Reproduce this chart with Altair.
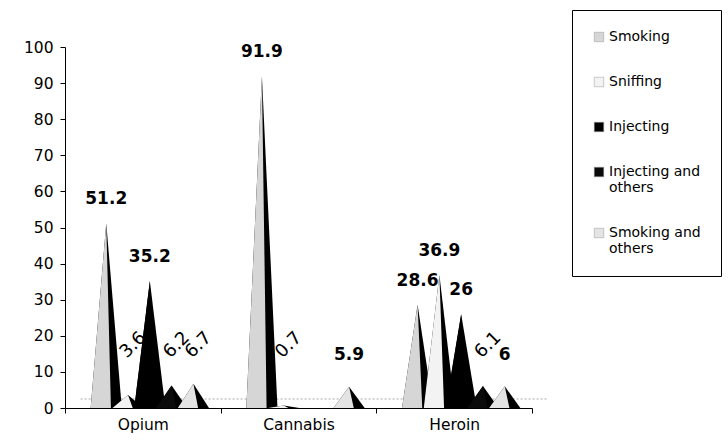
import json
import altair as alt
import pandas as pd

# ---------------- data ----------------
categories = ["Opium", "Cannabis", "Heroin"]
series = ["Smoking", "Sniffing", "Injecting", "Injecting and others", "Smoking and others"]
opium = [51.2, 3.6, 35.2, 6.2, 6.7]
cannabis = [91.9, 0.7, None, None, 5.9]
heroin = [28.6, 36.9, 26.0, 6.1, 6.0]
y_ticks = [0, 10, 20, 30, 40, 50, 60, 70, 80, 90, 100]

# ---------------- style ----------------
face_colors = ["#d6d6d6", "#f3f3f3", "#000000", "#0b0b0b", "#e4e4e4"]
rotated = {("Opium", "Sniffing"), ("Opium", "Injecting and others"),
           ("Opium", "Smoking and others"), ("Cannabis", "Sniffing"),
           ("Heroin", "Injecting and others")}
STEP, SHIFT, HALF, SPLIT = 0.14, 0.045, 0.1, 0.03
FONT = "DejaVu Sans"

values_by_cat = [opium, cannabis, heroin]
full_rows, face_rows, label_rows = [], [], []
for ci, (cat, vals) in enumerate(zip(categories, values_by_cat)):
    for si, (s, v) in enumerate(zip(series, vals)):
        if v is None:
            continue
        xc = ci + 0.5 + (si - 2) * STEP + SHIFT
        bid = f"{ci}-{si}"
        for xx, yy in [(xc - HALF, 0), (xc, v), (xc + HALF, 0)]:
            full_rows.append(dict(id=bid, series=s, si=si, x=xx, y=yy))
        for xx, yy in [(xc - HALF, 0), (xc, v), (xc + SPLIT, 0)]:
            face_rows.append(dict(id=bid, series=s, si=si, x=xx, y=yy))
        label_rows.append(dict(category=cat, series=s, x=xc, v=v,
                               text=f"{v:g}", rot=(cat, s) in rotated))

df_full = pd.DataFrame(full_rows)
df_face = pd.DataFrame(face_rows)
df_lab = pd.DataFrame(label_rows)

cat_js = json.dumps(categories).replace('"', "'")
xscale = alt.Scale(domain=[0, 3], nice=False, zero=False)
yscale = alt.Scale(domain=[0, 100], nice=False)
xaxis = alt.Axis(
    values=[0, 0.5, 1, 1.5, 2, 2.5, 3], title=None, grid=False,
    labelExpr=f"datum.value % 1 == 0 ? '' : {cat_js}[floor(datum.value)]",
    tickOpacity={"condition": {"test": "datum.value % 1 != 0", "value": 0}, "value": 1},
    tickSize=5, labelPadding=4, labelFontSize=15.5, labelFont=FONT,
    labelColor="black", domainColor="black", tickColor="black",
    labelFlush=False, labelOverlap=False,
)
yaxis = alt.Axis(
    values=y_ticks, title=None, grid=False, tickSize=5, labelPadding=7,
    labelFontSize=15.5, labelFont=FONT, labelColor="black",
    domainColor="black", tickColor="black", labelOverlap=False,
)
X = alt.X("x:Q", scale=xscale, axis=xaxis)
Y = alt.Y("y:Q", scale=yscale, axis=yaxis, stack=None)

legend = alt.Legend(
    title=None, orient="none", legendX=507, legendY=-37,
    symbolType="square", symbolSize=90, symbolStrokeColor="#999999",
    symbolStrokeWidth=0.5, labelFontSize=14, labelFont=FONT,
    labelColor="black", strokeColor="black", padding=20, rowPadding=31,
    labelOffset=3,
    labelExpr="datum.value == 'Injecting and others' ? ['Injecting and', 'others'] : "
              "datum.value == 'Smoking and others' ? ['Smoking and', 'others'] : datum.value",
)
COLOR = alt.Color("series:N", scale=alt.Scale(domain=series, range=face_colors), legend=legend)

floor = alt.Chart(pd.DataFrame({"a": [0]})).mark_rule(
    color="#aaaaaa", strokeDash=[2, 2], strokeWidth=1
).encode(
    x=alt.X(datum=0.1, scale=xscale, axis=xaxis),
    x2=alt.X2(datum=3.1),
    y=alt.Y(datum=2.5, scale=yscale, axis=yaxis),
)

layers = [floor]
for si, s in enumerate(series):
    layers.append(
        alt.Chart(df_full[df_full.si == si]).mark_area(color="black")
        .encode(x=X, y=Y, detail="id:N")
    )
    layers.append(
        alt.Chart(df_face[df_face.si == si]).mark_area()
        .encode(x=X, y=Y, detail="id:N", color=COLOR)
    )

bold = alt.Chart(df_lab[~df_lab.rot]).transform_calculate(
    ly="datum.v < 10 ? 8 : datum.v"
).mark_text(
    font=FONT, fontSize=17, fontWeight="bold", color="black",
    baseline="bottom", align="center", dy=-15
).encode(x=alt.X("x:Q", scale=xscale, axis=xaxis),
         y=alt.Y("ly:Q", scale=yscale, axis=yaxis), text="text:N")

rot = alt.Chart(df_lab[df_lab.rot]).transform_calculate(
    ly="14"
).mark_text(
    font=FONT, fontSize=18, color="black", baseline="alphabetic",
    align="left", angle=315, dx=-2
).encode(x=alt.X("x:Q", scale=xscale, axis=xaxis),
         y=alt.Y("ly:Q", scale=yscale, axis=yaxis), text="text:N")

layers += [bold, rot]

chart = alt.layer(*layers).properties(
    width=467, height=361,
    autosize=alt.AutoSizeParams(type="none"),
    padding={"left": 65, "top": 47, "right": 196, "bottom": 33},
    background="white",
).configure_view(stroke=None)

chart.save("out.html", embed_options={"renderer": "svg", "actions": False})
